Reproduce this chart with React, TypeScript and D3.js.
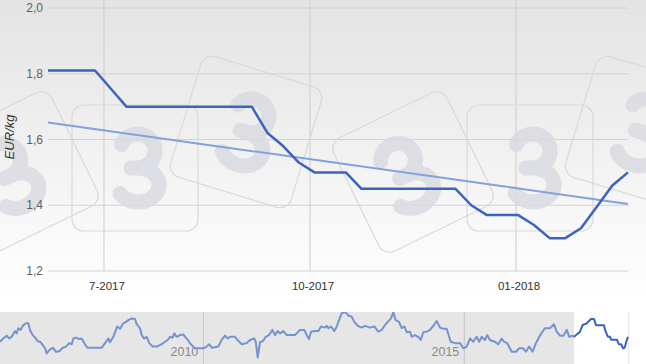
import React from 'react';
import * as d3 from 'd3';

const W = 646;
const H = 364;

// Main series: weekly prices (EUR/kg) starting 2017-06-06
const seriesStart = new Date(2017, 5, 6);
const priceValues = [
  1.81, 1.81, 1.81, 1.81, 1.755, 1.70, 1.70, 1.70, 1.70, 1.70, 1.70, 1.70, 1.70, 1.70,
  1.62, 1.58, 1.53, 1.50, 1.50, 1.50, 1.45, 1.45, 1.45, 1.45, 1.45, 1.45, 1.45,
  1.40, 1.37, 1.37, 1.37, 1.34, 1.30, 1.30, 1.33, 1.395, 1.46, 1.50,
];
const trendValues = [1.652, 1.404];

const yTicks = [1.2, 1.4, 1.6, 1.8, 2.0];
const xTickDates = [new Date(2017, 6, 1), new Date(2017, 9, 1), new Date(2018, 0, 1)];
const xTickLabels = ['7-2017', '10-2017', '01-2018'];

// Navigator history (decimal year, value)
const navYears = [
  2006.105, 2006.169, 2006.234, 2006.284, 2006.33, 2006.393, 2006.425, 2006.456, 2006.502, 2006.54,
  2006.603, 2006.648, 2006.68, 2006.732, 2006.795, 2006.82, 2006.885, 2006.923, 2006.967, 2007.0,
  2007.05, 2007.115, 2007.178, 2007.241, 2007.307, 2007.37, 2007.433, 2007.479, 2007.51, 2007.561,
  2007.625, 2007.67, 2007.734, 2007.778, 2007.862, 2008.054, 2008.117, 2008.18, 2008.213, 2008.276,
  2008.352, 2008.404, 2008.467, 2008.519, 2008.563, 2008.628, 2008.692, 2008.724, 2008.787, 2008.82,
  2008.864, 2008.916, 2008.966, 2009.031, 2009.107, 2009.203, 2009.266, 2009.318, 2009.362, 2009.414,
  2009.444, 2009.49, 2009.554, 2009.617, 2009.682, 2009.759, 2009.841, 2009.904, 2010.0, 2010.065,
  2010.115, 2010.161, 2010.224, 2010.287, 2010.352, 2010.416, 2010.467, 2010.511, 2010.607, 2010.67,
  2010.736, 2010.831, 2010.895, 2010.977, 2011.004, 2011.042, 2011.086, 2011.149, 2011.195, 2011.259,
  2011.322, 2011.374, 2011.425, 2011.469, 2011.533, 2011.598, 2011.757, 2011.852, 2011.935, 2011.981,
  2012.025, 2012.063, 2012.14, 2012.203, 2012.255, 2012.331, 2012.364, 2012.395, 2012.446, 2012.51,
  2012.556, 2012.6, 2012.651, 2012.728, 2012.778, 2012.843, 2012.893, 2012.958, 2013.034, 2013.098,
  2013.193, 2013.276, 2013.352, 2013.418, 2013.481, 2013.533, 2013.596, 2013.64, 2013.686, 2013.749,
  2013.801, 2013.851, 2013.897, 2013.96, 2013.992, 2014.056, 2014.119, 2014.165, 2014.215, 2014.28,
  2014.343, 2014.406, 2014.471, 2014.534, 2014.598, 2014.663, 2014.739, 2014.822, 2014.918, 2014.981,
  2015.046, 2015.109, 2015.172, 2015.236, 2015.286, 2015.333, 2015.395, 2015.439, 2015.49, 2015.586,
  2015.65, 2015.715, 2015.759, 2015.822, 2015.907, 2015.989, 2016.052, 2016.129, 2016.18, 2016.243,
  2016.308, 2016.372, 2016.448, 2016.544, 2016.64, 2016.718, 2016.769, 2016.833, 2016.897, 2016.962,
  2017.011, 2017.077, 2017.102, 2017.216, 2017.268, 2017.345,
];
const navValues = [
  1.415, 1.47, 1.52, 1.47, 1.5, 1.6, 1.56, 1.65, 1.62, 1.69,
  1.735, 1.735, 1.62, 1.53, 1.47, 1.43, 1.405, 1.36, 1.3, 1.21,
  1.27, 1.31, 1.24, 1.25, 1.31, 1.33, 1.39, 1.37, 1.47, 1.485,
  1.46, 1.47, 1.37, 1.31, 1.31, 1.31, 1.39, 1.47, 1.405, 1.5,
  1.68, 1.64, 1.735, 1.76, 1.79, 1.82, 1.81, 1.72, 1.65, 1.53,
  1.47, 1.5, 1.39, 1.33, 1.33, 1.37, 1.415, 1.445, 1.5, 1.485,
  1.56, 1.5, 1.53, 1.54, 1.47, 1.37, 1.3, 1.3, 1.3, 1.33,
  1.37, 1.31, 1.32, 1.33, 1.445, 1.52, 1.47, 1.5, 1.5, 1.43,
  1.37, 1.39, 1.445, 1.47, 1.415, 1.14, 1.405, 1.43, 1.5, 1.53,
  1.62, 1.53, 1.6, 1.56, 1.6, 1.53, 1.53, 1.62, 1.62, 1.53,
  1.46, 1.59, 1.6, 1.6, 1.68, 1.66, 1.69, 1.65, 1.68, 1.6,
  1.68, 1.79, 1.91, 1.93, 1.87, 1.85, 1.76, 1.69, 1.66, 1.69,
  1.66, 1.68, 1.59, 1.62, 1.706, 1.76, 1.82, 1.93, 1.79, 1.76,
  1.65, 1.68, 1.58, 1.59, 1.5, 1.53, 1.5, 1.445, 1.58, 1.59,
  1.62, 1.69, 1.775, 1.66, 1.64, 1.64, 1.415, 1.39, 1.39, 1.3,
  1.33, 1.47, 1.415, 1.5, 1.415, 1.5, 1.445, 1.53, 1.445, 1.415,
  1.37, 1.47, 1.415, 1.39, 1.24, 1.24, 1.3, 1.3, 1.24, 1.33,
  1.24, 1.39, 1.52, 1.65, 1.65, 1.72, 1.59, 1.52, 1.52, 1.62,
  1.5, 1.52, 1.5, 1.59, 1.706, 1.735,
];
const navTickYears = [2010, 2015];
const navSelection = [2017.1, 2018.15];

// Watermark layout (decorative)
const logos = [
  { cx: 18, cy: 172, rot: -26, dx: -9 },
  { cx: 135, cy: 168, rot: 0, dx: 2 },
  { cx: 246, cy: 132, rot: 17, dx: 0 },
  { cx: 413, cy: 172, rot: -26, dx: -9 },
  { cx: 530, cy: 168, rot: 0, dx: 2 },
  { cx: 641, cy: 132, rot: 17, dx: 0 },
];

const FONT = '"Liberation Sans", Arial, sans-serif';

function decimalYear(d: Date): number {
  const y = d.getFullYear();
  const start = new Date(y, 0, 1).getTime();
  const end = new Date(y + 1, 0, 1).getTime();
  return y + (d.getTime() - start) / (end - start);
}

export default function App() {
  const dates = priceValues.map((_, i) => d3.timeDay.offset(seriesStart, 7 * i));
  const x = d3.scaleTime().domain([dates[0], dates[dates.length - 1]]).range([48, 628]);
  const y = d3.scaleLinear().domain([1.2, 2.0]).range([271, 8]);

  const line = d3
    .line<number>()
    .x((_, i) => x(dates[i]))
    .y((v) => y(v));
  const mainPath = line(priceValues) || '';
  const trendPath =
    d3
      .line<number>()
      .x((_, i) => x(i === 0 ? dates[0] : dates[dates.length - 1]))
      .y((v) => y(v))(trendValues) || '';

  // navigator
  const navX = d3.scaleLinear().domain([2010, 2015]).range([203.3, 464.3]);
  const navY = d3.scaleLinear().domain([1.3, 1.81]).range([348.3, 319]);
  const navPts: [number, number][] = navYears.map((t, i) => [t, navValues[i]]);
  dates.forEach((d, i) => navPts.push([decimalYear(d), priceValues[i]]));
  const navPath =
    d3
      .line<[number, number]>()
      .x((p) => navX(p[0]))
      .y((p) => navY(p[1]))(navPts) || '';
  const selX0 = navX(navSelection[0]);
  const selX1 = navX(navSelection[1]);
  const navTop = 312;

  const threePath = 'M -15.5 -23.5 A 17.5 17 0 1 1 1 0 L -6 0 M 1 0 A 21 17 0 1 1 -17 25.5';

  return (
    <svg
      width={W}
      height={H}
      viewBox={`0 0 ${W} ${H}`}
      style={{ position: 'absolute', left: 0, top: 0, background: '#ffffff' }}
      fontFamily={FONT}
    >
      <defs>
        <linearGradient id="bg" x1="0" y1="0" x2="0" y2="1">
          <stop offset="0" stopColor="#e3e3e3" />
          <stop offset="1" stopColor="#ffffff" />
        </linearGradient>
        <clipPath id="navLight">
          <rect x={0} y={navTop} width={selX0} height={H - navTop} />
        </clipPath>
        <clipPath id="navDark">
          <rect x={selX0} y={navTop - 10} width={W - selX0} height={H - navTop + 10} />
        </clipPath>
      </defs>

      <rect x={0} y={0} width={W} height={300} fill="url(#bg)" />

      {/* grid */}
      {yTicks.map((t) => (
        <line key={t} x1={48} x2={628} y1={y(t)} y2={y(t)} stroke="#d2d2d2" strokeWidth={1} />
      ))}
      {xTickDates.map((d, i) => (
        <line key={i} x1={x(d)} x2={x(d)} y1={0} y2={271} stroke="#cdcdcd" strokeWidth={1} />
      ))}

      {/* watermark */}
      {logos.map((l, i) => (
        <g key={i} transform={`translate(${l.cx},${l.cy}) rotate(${l.rot})`}>
          <rect x={-63} y={-63} width={126} height={126} rx={12} fill="none" stroke="#d9d9d9" strokeWidth={1.2} />
          <path
            d={threePath}
            transform={`translate(${l.dx},0)`}
            fill="none"
            stroke="#d9dbe1"
            strokeOpacity={0.85}
            strokeWidth={15}
            strokeLinecap="round"
          />
        </g>
      ))}

      {/* series */}
      <path d={trendPath} fill="none" stroke="#82a2dc" strokeWidth={2} />
      <path d={mainPath} fill="none" stroke="#3b64bf" strokeWidth={2.5} strokeLinejoin="round" />

      {/* y labels */}
      {yTicks.map((t) => (
        <text key={t} x={43} y={y(t)} dy="0.35em" textAnchor="end" fontSize={12} fill="#606060">
          {t.toFixed(1).replace('.', ',')}
        </text>
      ))}
      <text
        transform={`translate(14,137) rotate(-90)`}
        textAnchor="middle"
        fontSize={13}
        fontStyle="italic"
        fill="#333"
      >
        EUR/kg
      </text>

      {/* x labels */}
      {xTickDates.map((d, i) => (
        <text key={i} x={x(d) + 3} y={290} textAnchor="middle" fontSize={11.5} fill="#333">
          {xTickLabels[i]}
        </text>
      ))}

      {/* navigator */}
      <rect x={0} y={navTop} width={selX0} height={H - navTop} fill="#e6e6e6" />
      {navTickYears.map((t) => (
        <g key={t}>
          <line x1={navX(t)} x2={navX(t)} y1={navTop} y2={H} stroke="#c4c4c4" strokeWidth={1} />
          <text x={navX(t) - 5} y={356} textAnchor="end" fontSize={12.5} fill="#8a8a8a">
            {t}
          </text>
        </g>
      ))}
      <line x1={selX1} x2={selX1} y1={navTop} y2={H} stroke="#e4e4e4" strokeWidth={1} />
      <path d={navPath} clipPath="url(#navLight)" fill="none" stroke="#7593cf" strokeWidth={2} strokeLinejoin="round" />
      <path d={navPath} clipPath="url(#navDark)" fill="none" stroke="#3a62b9" strokeWidth={2} strokeLinejoin="round" />
    </svg>
  );
}
